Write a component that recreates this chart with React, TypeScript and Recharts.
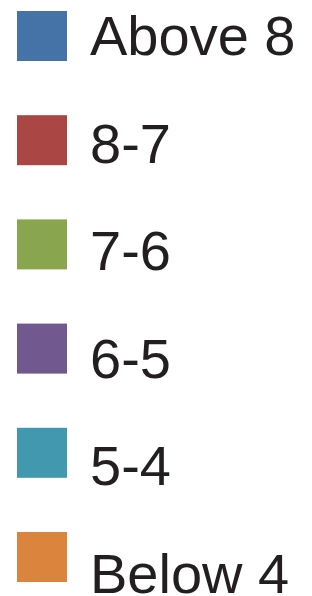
import React from "react";
import { BarChart, Bar, Legend, XAxis, YAxis } from "recharts";

const categories = ["Share"];
const seriesNames = ["Above 8", "8-7", "7-6", "6-5", "5-4", "Below 4"];
const seriesColors = ["#4572A7", "#AA4643", "#89A54E", "#71588F", "#4198AF", "#DB843D"];
const seriesValues = [0, 0, 0, 0, 0, 0];

const data = categories.map((c) => {
  const row: Record<string, string | number> = { name: c };
  seriesNames.forEach((n, i) => {
    row[n] = seriesValues[i];
  });
  return row;
});

const W = 312;
const H = 596;

const renderLegend = (props: any) => {
  const colorOf: Record<string, string> = {};
  if (props && props.payload) {
    props.payload.forEach((p: any) => {
      colorOf[p.value] = p.color;
    });
  }
  const items = seriesNames.map((n, i) => ({ value: n, color: colorOf[n] || seriesColors[i] }));
  return (
    <svg width={W} height={H} style={{ display: "block" }}>
      {items.map((p, i) => (
        <g key={p.value}>
          <rect x={17} y={11 + i * 104.2} width={50} height={50} fill={p.color} />
          <text
            x={90}
            y={55 + i * 107.6}
            fill="#231F20"
            fontSize={56}
            fontFamily="'Liberation Sans', Arial, Helvetica, sans-serif"
          >
            {p.value}
          </text>
        </g>
      ))}
    </svg>
  );
};

export default function App() {
  return (
    <div style={{ position: "absolute", left: 0, top: 0, width: W, height: H, background: "#fff" }}>
      <BarChart width={W} height={H} data={data} margin={{ top: 0, right: 0, bottom: 0, left: 0 }}>
        <XAxis dataKey="name" hide />
        <YAxis hide />
        {seriesNames.map((n, i) => (
          <Bar key={n} dataKey={n} name={n} fill={seriesColors[i]} isAnimationActive={false} />
        ))}
        <Legend
          content={renderLegend}
          layout="vertical"
          verticalAlign="top"
          align="left"
          wrapperStyle={{ left: 0, top: 0, width: W, height: H, margin: 0, padding: 0 }}
        />
      </BarChart>
    </div>
  );
}
